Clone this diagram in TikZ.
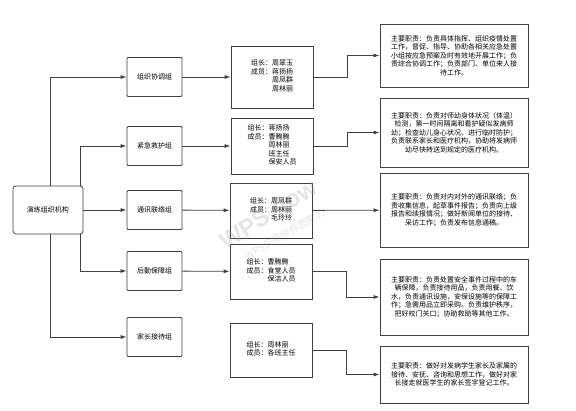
\documentclass[tikz,border=0pt]{standalone}
\usepackage{fontspec}
\newfontfamily\cjk{Noto Sans CJK SC}
\usetikzlibrary{arrows.meta}
\usepackage{xcolor}
\definecolor{linegray}{RGB}{64,64,64}
\definecolor{markgray}{RGB}{150,150,150}

\begin{document}
\begin{tikzpicture}[
    x=1pt, y=-1pt,
    every node/.style={font=\cjk\fontsize{7}{8.5}\selectfont, inner sep=0pt},
    box/.style={draw=linegray, line width=0.8pt, fill=white, align=center},
    group/.style={box, rounded corners=1pt, minimum width=55pt, minimum height=39pt},
    member/.style={box, minimum width=82pt},
    duty/.style={box, minimum width=148pt},
    arrow/.style={-{Latex[length=6pt,width=4pt]}, line width=0.8pt, linegray}
  ]
    \useasboundingbox (0,0) rectangle (576,411);

    \node[box, rounded corners=3pt, minimum width=70pt, minimum height=48pt] (main) at (48,210) {演练组织机构};

    % groups
    \node[group] (g1) at (154.5,77) {组织协调组};
    \node[group] (g2) at (154.5,146) {紧急救护组};
    \node[group] (g3) at (154.5,210) {通讯联络组};
    \node[group] (g4) at (154.5,271) {后勤保障组};
    \node[group] (g5) at (154.5,337) {家长接待组};

    % members
    \node[member, minimum height=62pt] (m1) at (272,77) {\begin{tabular}{@{}r@{}l@{}}组长：&周翠玉\\成员：&蒋扬扬\\&周凤群\\&周林丽\end{tabular}};
    \node[member, minimum height=56pt] (m2) at (272,146) {\begin{tabular}{@{}r@{}l@{}}组长：&蒋扬扬\\成员：&曹腾腾\\&周林丽\\&班主任\\&保安人员\end{tabular}};
    \node[member, minimum height=55pt] (m3) at (271,210.5) {\begin{tabular}{@{}r@{}l@{}}组长：&周凤群\\成员：&周林丽\\&毛玲玲\end{tabular}};
    \node[member, minimum height=55pt] (m4) at (271,271.5) {\begin{tabular}{@{}r@{}l@{}}组长：&曹腾腾\\成员：&食堂人员\\&保洁人员\end{tabular}};
    \node[member, minimum height=54pt] (m5) at (271,350) {\begin{tabular}{@{}r@{}l@{}}组长：&周林丽\\成员：&各班主任\end{tabular}};

    % duties
    \node[duty, minimum height=63pt] (d1) at (454,55.5) {主要职责：负责具体指挥、组织疫情处置\\工作，督促、指导、协助各相关应急处置\\小组按应急预案及时有效地开展工作；负\\责综合协调工作；负责部门、单位来人接\\待工作。};
    \node[duty, minimum height=69pt] (d2) at (454,132.5) {主要职责：负责对师幼身体状况（体温）\\检测，第一时间隔离和看护疑似发病师\\幼；检查幼儿身心状况、进行临时防护；\\负责联系家长和医疗机构，协助将发病师\\幼尽快转送到规定的医疗机构。};
    \node[duty, minimum height=74pt] (d3) at (454,210) {主要职责：负责对内对外的通讯联络；负\\责收集信息，起草事件报告；负责向上级\\报告和续报情况；做好新闻单位的接待、\\采访工作；负责发布信息通稿。};
    \node[duty, minimum height=76pt] (d4) at (454,297) {主要职责：负责处置安全事件过程中的车\\辆保障，负责接待用品，负责用餐、饮\\水，负责通讯设施，安保设施等的保障工\\作；急需用品立即采购。负责维护秩序，\\把好校门关口；协助救助等其他工作。};
    \node[duty, minimum height=57pt] (d5) at (454,374.5) {主要职责：做好对发病学生家长及家属的\\接待、安抚、咨询和思想工作，做好对家\\长接走就医学生的家长签字登记工作。};

    \draw[arrow] ([xshift=2pt]main.north) |- (g1.west);
    \draw[arrow] ([xshift=-3pt]main.north east) |- (g2.west);
    \draw[arrow] (main) -- (g3);
    \draw[arrow] ([xshift=-3pt]main.south east) |- (g4.west);
    \draw[arrow] ([xshift=2pt]main.south) |- (g5.west);

    \draw[arrow] (g1) -- (m1);
    \draw[arrow] (g2) -- (m2);
    \draw[arrow] (g3) -- (m3);
    \draw[arrow] (g4) -- (m4);

    \draw[arrow] (m1.east) -- ++(34,0) |- (d1.west);
    \draw[arrow] (m2.east) -- ++(34,0) |- (d2.west);
    \draw[arrow] (m3) -- (d3);
    \draw[arrow] (m4.east) -- ++(34,0) |- (d4.west);
    \draw[arrow] (m5.east) -- ++(34,0) |- (d5.west);

    % watermark
    \node[rotate=32, text=markgray, opacity=0.25, font=\fontspec{Liberation Sans}\bfseries\fontsize{24}{24}\selectfont] (wm) at (268,214) {WPS flow};
    \node[rotate=30, text=markgray, opacity=0.25, font=\cjk\fontsize{10}{10}\selectfont] (wmsub) at (285,234) {WPS仅提供作图能力};
  \end{tikzpicture}
\end{document}
